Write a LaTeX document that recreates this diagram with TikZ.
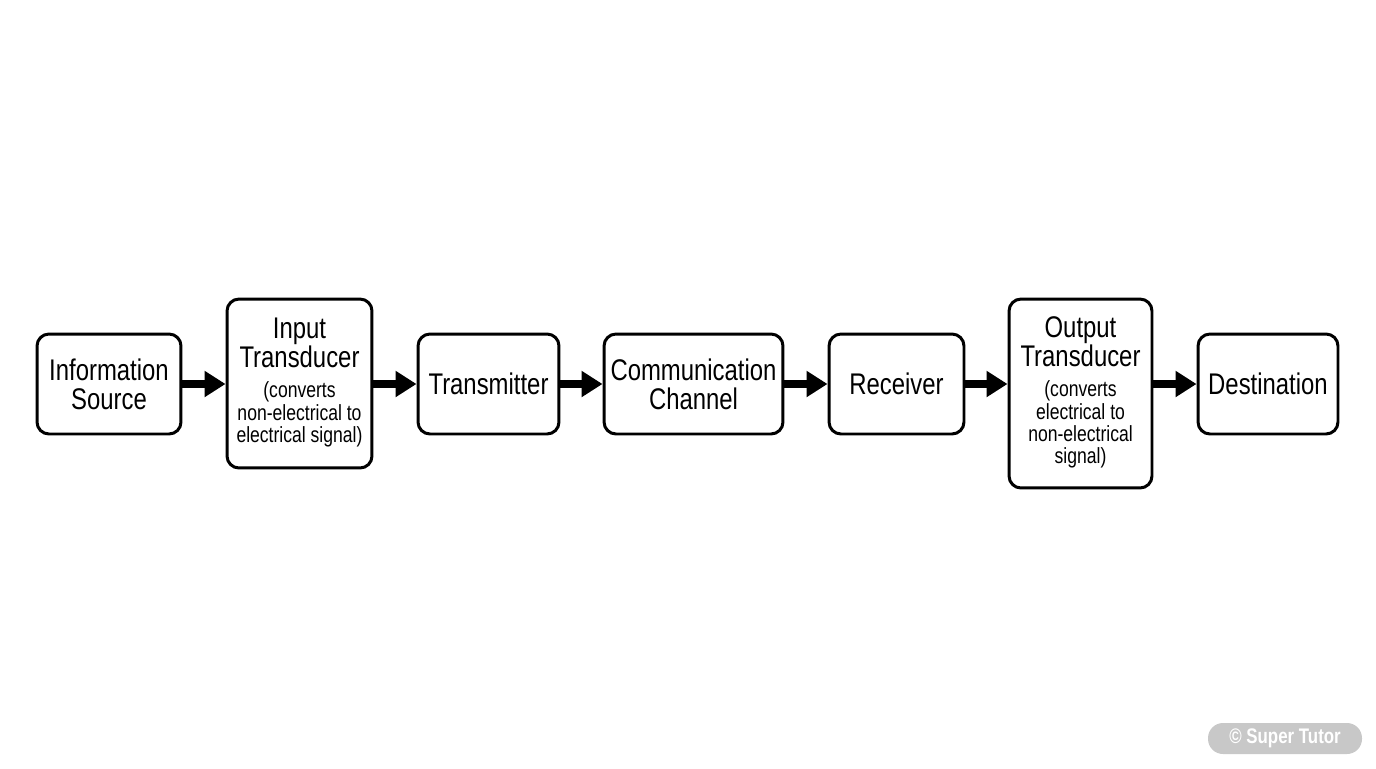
\documentclass[tikz,border=0pt]{standalone}
\usepackage{fontspec}
\setmainfont{Liberation Sans}[FakeStretch=0.8]
\usetikzlibrary{arrows.meta}
\definecolor{tagbg}{RGB}{200,200,200}
\newcommand{\smalltxt}[1]{{\fontsize{12.5}{12.3}\selectfont\begin{tabular}{@{}c@{}}#1\end{tabular}}}

\begin{document}
\begin{tikzpicture}[
		x=0.02cm,y=-0.02cm,
		block/.style={
			draw,line width=1.7pt,rounded corners=0.24cm,
			align=center,font=\fontsize{17}{16.5}\selectfont,
			inner sep=2pt
		},
		flow/.style={-{Triangle[length=0.42cm,width=0.5cm]},line width=5pt}
	]

	\useasboundingbox (0,0) rectangle (1376,768);

	\node[block,minimum width=2.88cm,minimum height=2.0cm] (src) at (109,384) {Information\\Source};
	\node[block,minimum width=2.9cm,minimum height=3.38cm] (intr) at (299.5,383.5) {Input\\Transducer\\[7pt]\smalltxt{(converts\\non-electrical to\\electrical signal)}};
	\node[block,minimum width=2.82cm,minimum height=2.0cm] (tx) at (488.5,384) {Transmitter};
	\node[block,minimum width=3.58cm,minimum height=2.0cm] (chan) at (693.5,384) {Communication\\Channel};
	\node[block,minimum width=2.7cm,minimum height=2.0cm] (rx) at (896.5,384) {Receiver};
	\node[block,minimum width=2.86cm,minimum height=3.78cm] (outtr) at (1080.5,393.5) {Output\\Transducer\\[7pt]\smalltxt{(converts\\electrical to\\non-electrical\\signal)}};
	\node[block,minimum width=2.8cm,minimum height=2.0cm] (dest) at (1268,384) {Destination};

	% arrows between stages
	\draw[flow] (src.east) -- (src.east -| intr.west);
	\draw[flow] (src.east -| intr.east) -- (tx.west);
	\draw[flow] (tx.east) -- (chan.west);
	\draw[flow] (chan.east) -- (rx.west);
	\draw[flow] (rx.east) -- (rx.east -| outtr.west);
	\draw[flow] (dest.west -| outtr.east) -- (dest.west);

	\node[fill=tagbg,text=white,rounded corners=0.3cm,minimum width=3.08cm,minimum height=0.62cm,font=\bfseries\fontsize{12}{14}\selectfont] (tag) at (1285,738.5) {© Super Tutor};

\end{tikzpicture}
\end{document}
